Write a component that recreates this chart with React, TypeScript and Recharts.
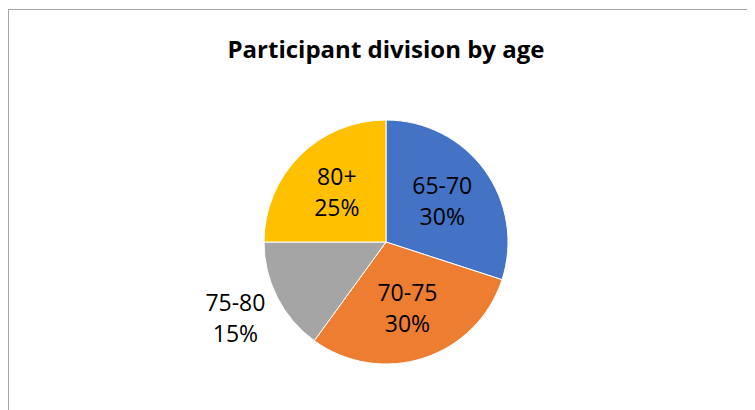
import React from "react";
import { PieChart, Pie, Cell } from "recharts";

const categories = ["65-70", "70-75", "75-80", "80+"];
const shares = [30, 30, 15, 25];
const colors = ["#4472C4", "#ED7D31", "#A5A5A5", "#FFC000"];
const title = "Participant division by age";

const data = categories.map((name, i) => ({ name, value: shares[i] }));

const RAD = Math.PI / 180;

const renderLabel = (props: any) => {
  const { cx, cy, midAngle, outerRadius, percent, name } = props;
  const outside = percent < 0.2;
  const r = outside ? outerRadius + 47 : outerRadius * 0.57;
  const x = cx + r * Math.cos(-midAngle * RAD);
  const y = cy + r * Math.sin(-midAngle * RAD);
  return (
    <text
      x={x}
      y={y}
      textAnchor="middle"
      fill="#000000"
      fontFamily="'Open Sans', sans-serif"
      fontSize={23}
    >
      <tspan x={x} y={y - 7.5}>{name}</tspan>
      <tspan x={x} y={y + 23.5}>{`${Math.round(percent * 100)}%`}</tspan>
    </text>
  );
};

export default function App() {
  return (
    <div
      style={{
        position: "relative",
        width: 746,
        height: 400,
        marginTop: 1,
        borderTop: "1px solid #A6A6A6",
        borderLeft: "1px solid #A6A6A6",
        background: "#ffffff",
      }}
    >
      <div
        style={{
          position: "absolute",
          left: 0,
          top: 24,
          width: 754,
          textAlign: "center",
          fontFamily: "'Open Sans', sans-serif",
          fontWeight: 700,
          fontSize: 24,
          lineHeight: "30px",
          color: "#000000",
        }}
      >
        {title}
      </div>
      <PieChart width={746} height={400}>
        <Pie
          data={data}
          dataKey="value"
          nameKey="name"
          cx={372}
          cy={227}
          outerRadius={122}
          startAngle={90}
          endAngle={-270}
          stroke="#ffffff"
          strokeWidth={1}
          label={renderLabel}
          labelLine={false}
          isAnimationActive={false}
        >
          {data.map((d, i) => (
            <Cell key={d.name} fill={colors[i]} />
          ))}
        </Pie>
      </PieChart>
    </div>
  );
}
